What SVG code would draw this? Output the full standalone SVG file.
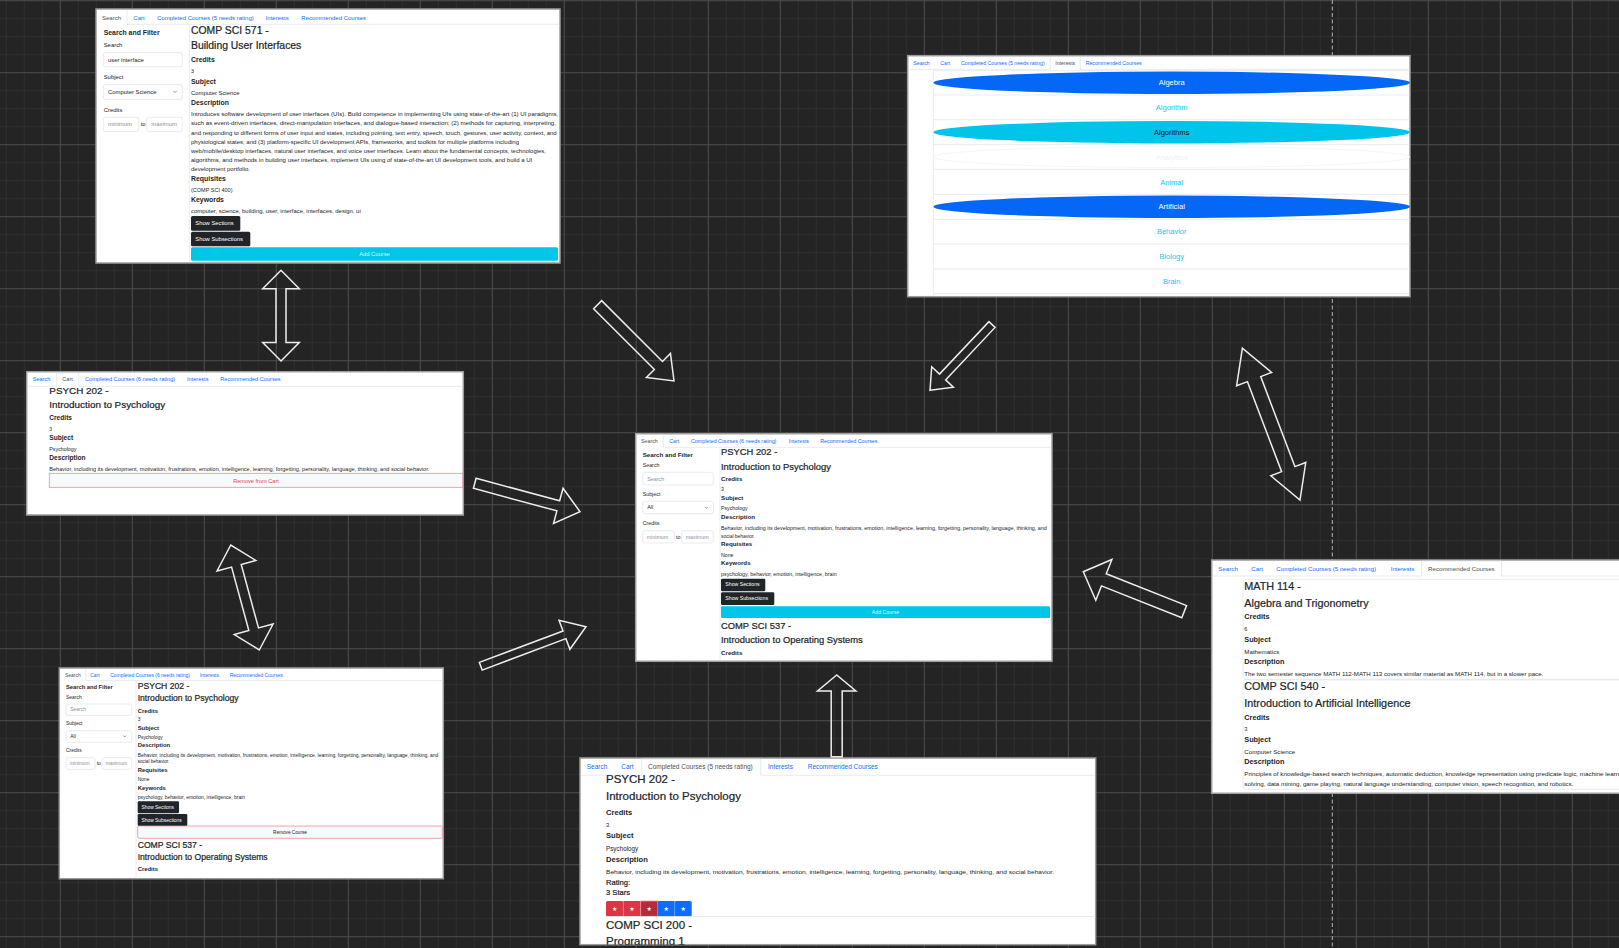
<svg xmlns="http://www.w3.org/2000/svg" width="1619" height="948" viewBox="0 0 1619 948">
<style>
text{font-family:"Liberation Sans",Arial,sans-serif;fill:#212529}
.h{stroke:#212529;stroke-width:0.22}
.tab{fill:#0d6efd}
.on{fill:#495057}
.b{font-weight:bold}
.ph{fill:#8b9198}
.w{fill:#fff}
.cy{fill:#0dcaf0}
.mid{text-anchor:middle}
.frame{fill:#fff;stroke:#9c9c9c;stroke-width:1.5}
.rule{stroke:#dee2e6;stroke-width:0.7;fill:none}
.field{fill:#fff;stroke:#dee2e6;stroke-width:0.7}
.chev{fill:none;stroke:#555;stroke-width:0.6}
.dark{fill:#212529}
.info{fill:#00c6ea}
.btnlbl{fill:#d9f6fc}
.danger{fill:#f8f9fa;stroke:#f08a95;stroke-width:0.8}
.star{font-family:"DejaVu Sans",sans-serif;fill:#fff;text-anchor:middle}
.conn polygon{fill:none;stroke:#ededed;stroke-width:1.5;stroke-linejoin:miter}
</style>
<defs>
<pattern id="gMinor" width="18" height="18" patternUnits="userSpaceOnUse" x="5.8" y="0.2"><path d="M0 0.5H18M0.5 0V18" stroke="#2e2e2e" stroke-width="1" fill="none"/></pattern>
<pattern id="gMajor" width="72" height="72" patternUnits="userSpaceOnUse" x="59.8" y="0.2"><path d="M0 0.5H72M0.5 0V72" stroke="#4a4a4a" stroke-width="1" fill="none"/></pattern>
<clipPath id="clipRated"><rect x="580" y="758" width="515.7" height="186.7"/></clipPath>
</defs>

<!-- canvas -->
<rect width="1619" height="948" fill="#242424"/>
<rect width="1619" height="948" fill="url(#gMinor)"/>
<rect width="1619" height="948" fill="url(#gMajor)"/>
<line x1="1332.3" y1="0" x2="1332.3" y2="948" stroke="#b4b4b4" stroke-width="1" stroke-dasharray="4 2.5"/>

<!-- Search tab: COMP SCI 571 -->
<g id="search-571">
<rect class="frame" x="96" y="9" width="464" height="254"/>
<g font-size="6">
<text class="tab on" x="102" y="20">Search</text>
<text class="tab" x="133.3" y="20">Cart</text>
<text class="tab" x="157" y="20">Completed Courses (5 needs rating)</text>
<text class="tab" x="265.7" y="20">Interests</text>
<text class="tab" x="301.3" y="20">Recommended Courses</text>
</g>
<path class="rule" d="M127 10V24.3H559.3M189.3 24.3V262.3"/>
<g font-size="5.9">
<text class="b" x="103.7" y="35" font-size="6.9">Search and Filter</text>
<text x="103.7" y="46.7">Search</text>
<rect class="field" x="103.3" y="52.7" width="79" height="14" rx="2"/>
<text x="108" y="61.9">user interface</text>
<text x="103.7" y="79">Subject</text>
<rect class="field" x="103.3" y="84.7" width="79" height="14.6" rx="2"/>
<text x="108" y="93.6">Computer Science</text>
<path class="chev" d="M173.3 90.9l1.7 1.7 1.7-1.7"/>
<text x="103.7" y="111.7">Credits</text>
<rect class="field" x="103.3" y="117.3" width="35.4" height="14.4" rx="2"/>
<text class="ph" x="108" y="126.4">minimum</text>
<text x="140.7" y="126.4">to</text>
<rect class="field" x="146.7" y="117.3" width="35.6" height="14.4" rx="2"/>
<text class="ph" x="151.3" y="126.4">maximum</text>
</g>
<g font-size="5.9">
<text class="h" x="191" y="34" font-size="10.4">COMP SCI 571 -</text>
<text class="h" x="191" y="49.3" font-size="10.4">Building User Interfaces</text>
<text class="b" x="191" y="62.3" font-size="6.9">Credits</text>
<text x="191" y="73.3" font-size="5.3">3</text>
<text class="b" x="191" y="84" font-size="6.9">Subject</text>
<text x="191" y="95.3">Computer Science</text>
<text class="b" x="191" y="105" font-size="6.9">Description</text>
<g font-size="5.5">
<text x="191" y="116.3" textLength="367.3" lengthAdjust="spacingAndGlyphs">Introduces software development of user interfaces (UIs). Build competence in implementing UIs using state-of-the-art (1) UI paradigms,</text>
<text x="191" y="125.3" textLength="365" lengthAdjust="spacingAndGlyphs">such as event-driven interfaces, direct-manipulation interfaces, and dialogue-based interaction; (2) methods for capturing, interpreting,</text>
<text x="191" y="134.7" textLength="365.7" lengthAdjust="spacingAndGlyphs">and responding to different forms of user input and states, including pointing, text entry, speech, touch, gestures, user activity, context, and</text>
<text x="191" y="143.7" textLength="328" lengthAdjust="spacingAndGlyphs">physiological states; and (3) platform-specific UI development APIs, frameworks, and toolkits for multiple platforms including</text>
<text x="191" y="152.7" textLength="355" lengthAdjust="spacingAndGlyphs">web/mobile/desktop interfaces, natural user interfaces, and voice user interfaces. Learn about the fundamental concepts, technologies,</text>
<text x="191" y="161.7" textLength="341.3" lengthAdjust="spacingAndGlyphs">algorithms, and methods in building user interfaces, implement UIs using of state-of-the-art UI development tools, and build a UI</text>
<text x="191" y="170.7" textLength="59" lengthAdjust="spacingAndGlyphs">development portfolio.</text>
</g>
<text class="b" x="191" y="180.7" font-size="6.9">Requisites</text>
<text x="191" y="192" font-size="5.5">(COMP SCI 400)</text>
<text class="b" x="191" y="201.7" font-size="6.9">Keywords</text>
<text x="191" y="213.3" font-size="5.5" textLength="169.7" lengthAdjust="spacingAndGlyphs">computer, science, building, user, interface, interfaces, design, ui</text>
<rect class="dark" x="191" y="216" width="49.3" height="14.7" rx="1.5"/>
<text class="w" x="195.3" y="225.2" font-size="5.8">Show Sections</text>
<rect class="dark" x="191" y="231.7" width="59.3" height="14.6" rx="1.5"/>
<text class="w" x="195.3" y="240.8" font-size="5.8">Show Subsections</text>
<rect class="info" x="191" y="247.3" width="367" height="13.4" rx="1.5"/>
<text class="btnlbl mid" x="374.5" y="256" font-size="5.8">Add Course</text>
</g>
</g>

<!-- Interests tab -->
<g id="interests">
<rect class="frame" x="907.7" y="55.7" width="502.3" height="241"/>
<g font-size="5.2">
<text class="tab" x="913.3" y="65">Search</text>
<text class="tab" x="940.3" y="65">Cart</text>
<text class="tab" x="961" y="65">Completed Courses (5 needs rating)</text>
<text class="tab on" x="1055.3" y="65">Interests</text>
<text class="tab" x="1085.7" y="65">Recommended Courses</text>
</g>
<path class="rule" d="M908.5 69.3H1050.3V57M1080.3 57V69.3H1409.3M933.3 70.7V296"/>
<path class="rule" d="M933.3 70.7H1410M933.3 95H1410M933.3 119.7H1410M933.3 144.7H1410M933.3 169.3H1410M933.3 194.3H1410M933.3 219.3H1410M933.3 244H1410M933.3 269H1410M933.3 293.7H1410"/>
<ellipse cx="1171.7" cy="82.8" rx="238.3" ry="11.2" fill="#0467f5"/>
<ellipse cx="1171.7" cy="132.2" rx="238.3" ry="11.2" fill="#00c4ea"/>
<ellipse cx="1171.7" cy="157" rx="238.3" ry="10.5" fill="none" stroke="#f1f3f5" stroke-width="0.8"/>
<ellipse cx="1171.7" cy="206.8" rx="238.3" ry="11.2" fill="#0467f5"/>
<g font-size="7.5">
<text class="w mid" x="1171.7" y="85.4">Algebra</text>
<text class="cy mid" x="1171.7" y="110.3">Algorithm</text>
<text class="mid" x="1171.7" y="134.8" style="fill:#111">Algorithms</text>
<text class="mid" x="1171.7" y="159.7" style="fill:#eef1f4">Analytical</text>
<text class="cy mid" x="1171.7" y="184.7">Animal</text>
<text class="w mid" x="1171.7" y="209.4">Artificial</text>
<text class="cy mid" x="1171.7" y="234.3">Behavior</text>
<text class="cy mid" x="1171.7" y="259.3">Biology</text>
<text class="cy mid" x="1171.7" y="284">Brain</text>
</g>
</g>

<!-- Cart tab -->
<g id="cart">
<rect class="frame" x="26.7" y="371.7" width="436.6" height="143.3"/>
<g font-size="5.6">
<text class="tab" x="32.7" y="381">Search</text>
<text class="tab on" x="62.3" y="381">Cart</text>
<text class="tab" x="85" y="381">Completed Courses (6 needs rating)</text>
<text class="tab" x="187" y="381">Interests</text>
<text class="tab" x="220.3" y="381">Recommended Courses</text>
</g>
<path class="rule" d="M27.5 386.3H56.7V373H78.7V386.3H462.5"/>
<text class="h" x="49.3" y="393.7" font-size="9.9">PSYCH 202 -</text>
<text class="h" x="49.3" y="408.3" font-size="9.9">Introduction to Psychology</text>
<text class="b" x="49.3" y="420" font-size="6.6">Credits</text>
<text x="49.3" y="430.7" font-size="5">3</text>
<text class="b" x="49.3" y="440.3" font-size="6.6">Subject</text>
<text x="49.3" y="450.7" font-size="5.3">Psychology</text>
<text class="b" x="49.3" y="460" font-size="6.6">Description</text>
<text x="49.3" y="470.7" font-size="5.3" textLength="380" lengthAdjust="spacingAndGlyphs">Behavior, including its development, motivation, frustrations, emotion, intelligence, learning, forgetting, personality, language, thinking, and social behavior.</text>
<rect class="danger" x="49.3" y="473.3" width="413.4" height="14"/>
<text class="mid" x="256" y="482.6" font-size="5.6" style="fill:#e3404f">Remove from Cart</text>
</g>

<!-- Search tab: PSYCH 202 results -->
<g id="search-results">
<rect class="frame" x="635.7" y="433.7" width="416.3" height="227.6"/>
<g font-size="5.3">
<text class="tab on" x="641" y="442.7">Search</text>
<text class="tab" x="669.3" y="442.7">Cart</text>
<text class="tab" x="691" y="442.7">Completed Courses (6 needs rating)</text>
<text class="tab" x="788.7" y="442.7">Interests</text>
<text class="tab" x="820.3" y="442.7">Recommended Courses</text>
</g>
<path class="rule" d="M663.3 434.5V447.3H1051.3M720 447.3V660.5"/>
<g font-size="5.3">
<text class="b" x="642.7" y="456.7" font-size="6.2">Search and Filter</text>
<text x="642.7" y="467.3">Search</text>
<rect class="field" x="642.7" y="472.3" width="70.6" height="12.7" rx="2"/>
<text class="ph" x="647.3" y="480.5">Search</text>
<text x="642.7" y="496.3">Subject</text>
<rect class="field" x="642.7" y="501.3" width="70.6" height="12.4" rx="2"/>
<text x="647.3" y="509.4">All</text>
<path class="chev" d="M704.8 506.8l1.5 1.5 1.5-1.5"/>
<text x="642.7" y="525.3">Credits</text>
<rect class="field" x="642.7" y="530.7" width="31.6" height="12.3" rx="2"/>
<text class="ph" x="646.7" y="538.7">minimum</text>
<text x="676" y="538.7">to</text>
<rect class="field" x="681.7" y="530.7" width="31.6" height="12.3" rx="2"/>
<text class="ph" x="685.7" y="538.7">maximum</text>
</g>
<g font-size="5.2">
<text class="h" x="721" y="455.3" font-size="9.4">PSYCH 202 -</text>
<text class="h" x="721" y="469.7" font-size="9.4">Introduction to Psychology</text>
<text class="b" x="721" y="481.3" font-size="6.2">Credits</text>
<text x="721" y="491.3">3</text>
<text class="b" x="721" y="500.3" font-size="6.2">Subject</text>
<text x="721" y="510.3">Psychology</text>
<text class="b" x="721" y="519.3" font-size="6.2">Description</text>
<text x="721" y="529.7" font-size="4.9" textLength="325.7" lengthAdjust="spacingAndGlyphs">Behavior, including its development, motivation, frustrations, emotion, intelligence, learning, forgetting, personality, language, thinking, and</text>
<text x="721" y="537.7" font-size="4.9">social behavior.</text>
<text class="b" x="721" y="546.3" font-size="6.2">Requisites</text>
<text x="721" y="556.7">None</text>
<text class="b" x="721" y="565.3" font-size="6.2">Keywords</text>
<text x="721" y="575.7" font-size="4.9" textLength="115.7" lengthAdjust="spacingAndGlyphs">psychology, behavior, emotion, intelligence, brain</text>
<rect class="dark" x="721" y="578.7" width="44.3" height="12.6" rx="1.3"/>
<text class="w" x="725.3" y="586.4">Show Sections</text>
<rect class="dark" x="721" y="592.3" width="53.3" height="12.7" rx="1.3"/>
<text class="w" x="725.3" y="600.1">Show Subsections</text>
<rect class="info" x="721" y="606.3" width="329" height="11.7" rx="1.3"/>
<text class="btnlbl mid" x="885.5" y="614.2">Add Course</text>
<text class="h" x="721" y="629" font-size="9.4">COMP SCI 537 -</text>
<text class="h" x="721" y="643" font-size="9.4">Introduction to Operating Systems</text>
<text class="b" x="721" y="654.7" font-size="6.2">Credits</text>
</g>
</g>

<!-- Search tab: course added -->
<g id="search-added">
<rect class="frame" x="59.3" y="668" width="384" height="210.7"/>
<g font-size="4.95">
<text class="tab on" x="65" y="676.7">Search</text>
<text class="tab" x="90.3" y="676.7">Cart</text>
<text class="tab" x="110.3" y="676.7">Completed Courses (6 needs rating)</text>
<text class="tab" x="200" y="676.7">Interests</text>
<text class="tab" x="229.7" y="676.7">Recommended Courses</text>
</g>
<path class="rule" d="M85.7 669V680.7H442.5M136 680.7V878"/>
<g font-size="4.95">
<text class="b" x="66" y="689.3" font-size="5.75">Search and Filter</text>
<text x="66" y="698.7">Search</text>
<rect class="field" x="66" y="704" width="65.7" height="11.3" rx="2"/>
<text class="ph" x="70.3" y="711.3">Search</text>
<text x="66" y="725.3">Subject</text>
<rect class="field" x="66" y="730.7" width="65.7" height="11.6" rx="2"/>
<text x="70.3" y="738.3">All</text>
<path class="chev" d="M123.3 735.6l1.4 1.4 1.4-1.4"/>
<text x="66" y="752">Credits</text>
<rect class="field" x="66" y="757.7" width="29" height="11.6" rx="2"/>
<text class="ph" x="69.7" y="765.2">minimum</text>
<text x="96.7" y="765.2">to</text>
<rect class="field" x="102" y="757.7" width="29.7" height="11.6" rx="2"/>
<text class="ph" x="105.7" y="765.2">maximum</text>
</g>
<g font-size="4.9">
<text class="h" x="137.7" y="688.7" font-size="8.6">PSYCH 202 -</text>
<text class="h" x="137.7" y="701.3" font-size="8.6">Introduction to Psychology</text>
<text class="b" x="137.7" y="712.7" font-size="5.9">Credits</text>
<text x="137.7" y="721.3">3</text>
<text class="b" x="137.7" y="729.7" font-size="5.9">Subject</text>
<text x="137.7" y="739.3">Psychology</text>
<text class="b" x="137.7" y="747.3" font-size="5.9">Description</text>
<text x="137.7" y="756.7" font-size="4.6" textLength="300.6" lengthAdjust="spacingAndGlyphs">Behavior, including its development, motivation, frustrations, emotion, intelligence, learning, forgetting, personality, language, thinking, and</text>
<text x="137.7" y="763.3" font-size="4.6">social behavior.</text>
<text class="b" x="137.7" y="772" font-size="5.9">Requisites</text>
<text x="137.7" y="781.3">None</text>
<text class="b" x="137.7" y="789.7" font-size="5.9">Keywords</text>
<text x="137.7" y="799" font-size="4.6" textLength="107.3" lengthAdjust="spacingAndGlyphs">psychology, behavior, emotion, intelligence, brain</text>
<rect class="dark" x="137.7" y="801.3" width="41.3" height="12" rx="1.2"/>
<text class="w" x="141.5" y="808.8">Show Sections</text>
<rect class="dark" x="137.7" y="814" width="49.6" height="12" rx="1.2"/>
<text class="w" x="141.5" y="821.5">Show Subsections</text>
<rect class="danger" x="137.7" y="826" width="304.6" height="12.3" rx="1"/>
<text class="mid" x="290" y="834.3" font-size="4.7">Remove Course</text>
<text class="h" x="137.7" y="848" font-size="8.6">COMP SCI 537 -</text>
<text class="h" x="137.7" y="860.3" font-size="8.6">Introduction to Operating Systems</text>
<text class="b" x="137.7" y="871.3" font-size="5.9">Credits</text>
</g>
</g>

<!-- Completed Courses tab -->
<g id="completed">
<rect class="frame" x="580" y="758" width="515.7" height="186.7"/>
<g clip-path="url(#clipRated)">
<g font-size="6.5">
<text class="tab" x="586.7" y="768.7">Search</text>
<text class="tab" x="621.3" y="768.7">Cart</text>
<text class="tab on" x="648" y="768.7">Completed Courses (5 needs rating)</text>
<text class="tab" x="768" y="768.7">Interests</text>
<text class="tab" x="807.7" y="768.7">Recommended Courses</text>
</g>
<path class="rule" d="M580.8 775.3H641.7V759H760.7V775.3H1095"/>
<g font-size="6.3">
<text class="h" x="606" y="783" font-size="11.5">PSYCH 202 -</text>
<text class="h" x="606" y="800.3" font-size="11.5">Introduction to Psychology</text>
<text class="b" x="606" y="815" font-size="7.6">Credits</text>
<text x="606" y="827.3" font-size="5.8">3</text>
<text class="b" x="606" y="838.3" font-size="7.6">Subject</text>
<text x="606" y="851.3">Psychology</text>
<text class="b" x="606" y="862.3" font-size="7.6">Description</text>
<text x="606" y="874.3" font-size="5.8" textLength="448" lengthAdjust="spacingAndGlyphs">Behavior, including its development, motivation, frustrations, emotion, intelligence, learning, forgetting, personality, language, thinking, and social behavior.</text>
<text class="h" x="606" y="885" font-size="7.6" stroke-width="0.12">Rating:</text>
<text class="h" x="606" y="895.3" font-size="7.6" stroke-width="0.12">3 Stars</text>
<rect x="606" y="901" width="17.3" height="15.3" rx="1.5" fill="#dc3545"/>
<rect x="623.3" y="901" width="17.4" height="15.3" fill="#dc3545"/>
<rect x="640.7" y="901" width="17" height="15.3" fill="#b42b3a" stroke="#e9959d" stroke-width="0.8"/>
<rect x="657.7" y="901" width="17" height="15.3" fill="#0d6efd"/>
<rect x="674.7" y="901" width="17" height="15.3" rx="1.5" fill="#0d6efd"/>
<path d="M623.3 901V916.3M674.7 901V916.3" stroke="#ffffff" stroke-opacity="0.35" stroke-width="0.5"/>
<text class="star" x="614.7" y="911.2" font-size="6">★</text>
<text class="star" x="632" y="911.2" font-size="6">★</text>
<text class="star" x="649.2" y="911.2" font-size="6">★</text>
<text class="star" x="666.2" y="911.2" font-size="6">★</text>
<text class="star" x="683.2" y="911.2" font-size="6">★</text>
<path class="rule" d="M606 916.5H1095.7"/>
<text class="h" x="606" y="928.7" font-size="11.5">COMP SCI 200 -</text>
<text class="h" x="606" y="945.3" font-size="11.5">Programming 1</text>
</g>
</g>
</g>

<!-- Recommended Courses tab -->
<g id="recommended">
<rect class="frame" x="1211.7" y="560" width="420" height="233.3"/>
<g font-size="6.2">
<text class="tab" x="1218.3" y="570.7">Search</text>
<text class="tab" x="1251.3" y="570.7">Cart</text>
<text class="tab" x="1276.3" y="570.7">Completed Courses (5 needs rating)</text>
<text class="tab" x="1390.7" y="570.7">Interests</text>
<text class="tab on" x="1428" y="570.7">Recommended Courses</text>
</g>
<path class="rule" d="M1212.5 576H1421.7V561H1501.7V576H1619"/>
<rect class="rule" x="1243" y="579.3" width="390" height="100" rx="2"/>
<rect class="rule" x="1243" y="680" width="390" height="109.3" rx="2"/>
<g font-size="6.2">
<text class="h" x="1244.3" y="589.7" font-size="10.8">MATH 114 -</text>
<text class="h" x="1244.3" y="606.7" font-size="10.8">Algebra and Trigonometry</text>
<text class="b" x="1244.3" y="619.3" font-size="7.3">Credits</text>
<text x="1244.3" y="631.3" font-size="5.6">6</text>
<text class="b" x="1244.3" y="642" font-size="7.3">Subject</text>
<text x="1244.3" y="654">Mathematics</text>
<text class="b" x="1244.3" y="664.3" font-size="7.3">Description</text>
<text x="1244.3" y="675.7" font-size="5.6" textLength="299" lengthAdjust="spacingAndGlyphs">The two semester sequence MATH 112-MATH 113 covers similar material as MATH 114, but in a slower pace.</text>
<text class="h" x="1244.3" y="690" font-size="10.8">COMP SCI 540 -</text>
<text class="h" x="1244.3" y="706.7" font-size="10.8">Introduction to Artificial Intelligence</text>
<text class="b" x="1244.3" y="719.7" font-size="7.3">Credits</text>
<text x="1244.3" y="731.3" font-size="5.6">3</text>
<text class="b" x="1244.3" y="742" font-size="7.3">Subject</text>
<text x="1244.3" y="754">Computer Science</text>
<text class="b" x="1244.3" y="764.3" font-size="7.3">Description</text>
<text x="1244.3" y="776.3" font-size="5.6" textLength="375" lengthAdjust="spacingAndGlyphs">Principles of knowledge-based search techniques, automatic deduction, knowledge representation using predicate logic, machine learn</text>
<text x="1244.3" y="785.7" font-size="5.6" textLength="329" lengthAdjust="spacingAndGlyphs">solving, data mining, game playing, natural language understanding, computer vision, speech recognition, and robotics.</text>
</g>
</g>

<!-- hollow block arrows between screens -->
<g id="connectors" class="conn">
<polygon transform="translate(281 361) rotate(90)" points="0,0 -18.4,-18.3 -18.4,-5 -72.3,-5 -72.3,-18.3 -90.7,0 -72.3,18.3 -72.3,5 -18.4,5 -18.4,18.3"/>
<polygon transform="translate(674 381) rotate(45)" points="0,0 -22,-17 -22,-5.7 -108,-5.7 -108,5.7 -22,5.7 -22,17"/>
<polygon transform="translate(930 390.3) rotate(133.3)" points="0,0 -18.3,-14.9 -18.3,-4.2 -90.4,-4.2 -90.4,4.2 -18.3,4.2 -18.3,14.9"/>
<polygon transform="translate(1300 500) rotate(69.2)" points="0,0 -33,-18.7 -33,-7.1 -129.3,-7.1 -129.3,-18.7 -162.3,0 -129.3,18.7 -129.3,7.1 -33,7.1 -33,18.7"/>
<polygon transform="translate(580 511.7) rotate(15.1)" points="0,0 -22.5,-18.2 -22.5,-5.2 -109,-5.2 -109,5.2 -22.5,5.2 -22.5,18.2"/>
<polygon transform="translate(259.3 650) rotate(74.8)" points="0,0 -21.5,-20.1 -21.5,-5 -87.3,-5 -87.3,-20.1 -108.8,0 -87.3,20.1 -87.3,5 -21.5,5 -21.5,20.1"/>
<polygon transform="translate(586 626.7) rotate(-20.6)" points="0,0 -23,-15.5 -23,-4.1 -112.4,-4.1 -112.4,4.1 -23,4.1 -23,15.5"/>
<polygon transform="translate(1083.3 571.7) rotate(201.6)" points="0,0 -22.1,-21.9 -22.1,-6.5 -108.5,-6.5 -108.5,6.5 -22.1,6.5 -22.1,21.9"/>
<polygon transform="translate(836.7 675) rotate(-90)" points="0,0 -16,-19.2 -16,-5.5 -81.7,-5.5 -81.7,5.5 -16,5.5 -16,19.2"/>
</g>
</svg>
